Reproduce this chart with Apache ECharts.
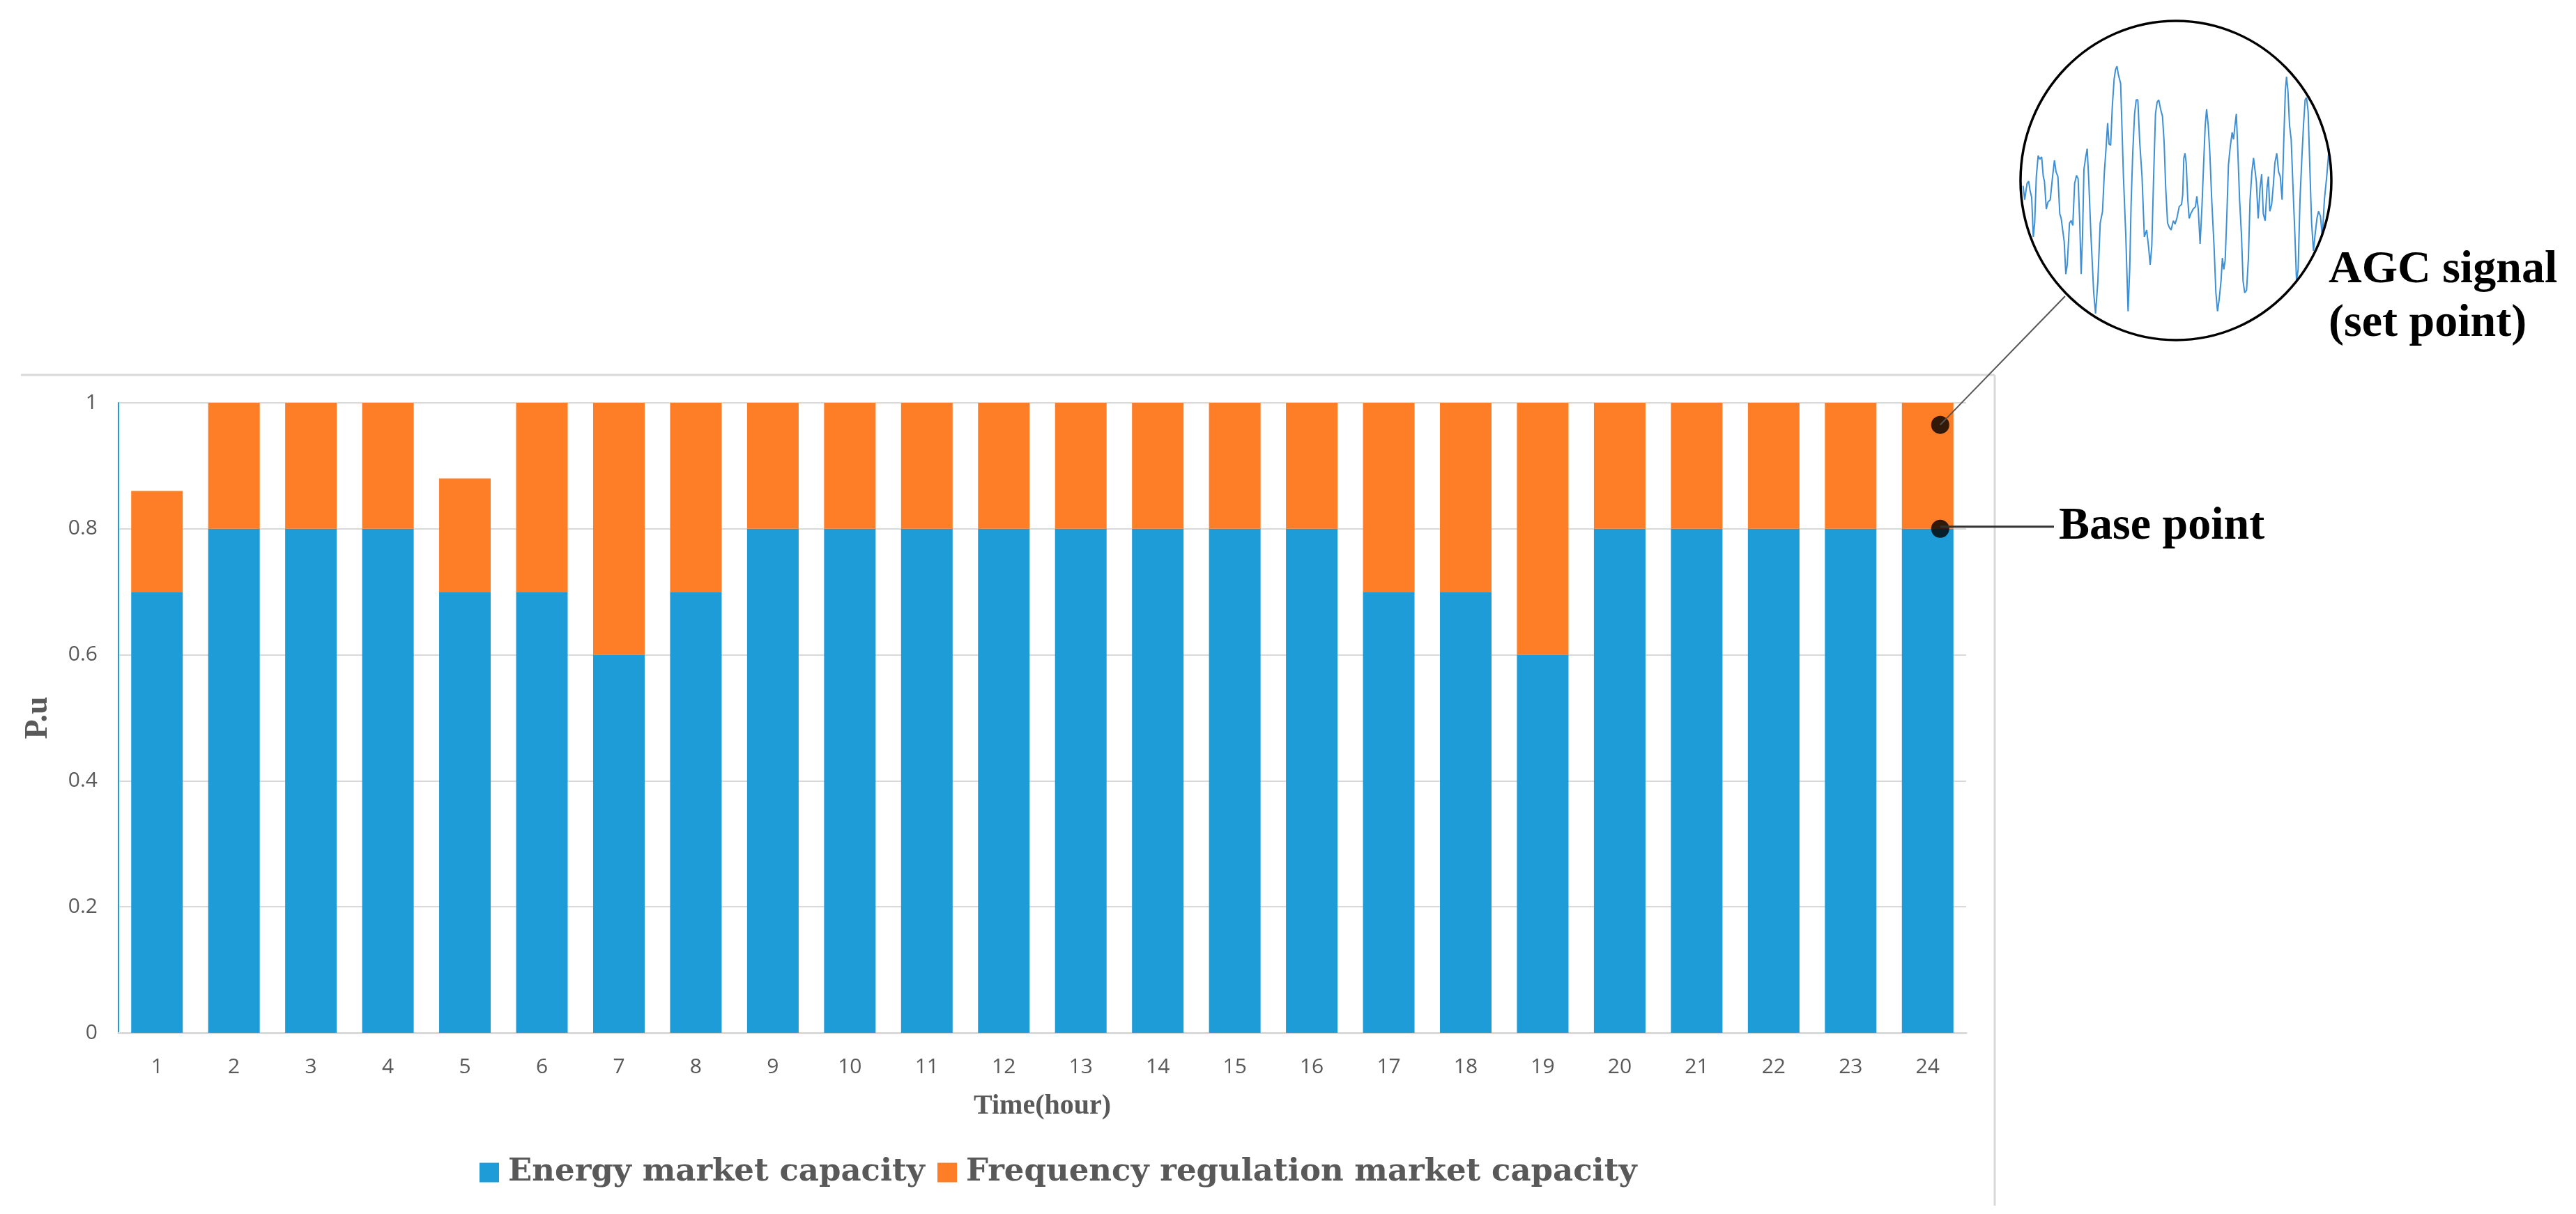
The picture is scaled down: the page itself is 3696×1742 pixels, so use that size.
<!DOCTYPE html>
<html>
<head>
<meta charset="utf-8">
<script src="https://cdn.jsdelivr.net/npm/echarts@6/dist/echarts.min.js"></script>
<style>
html,body{margin:0;padding:0;background:#fff;}
#main{width:3696px;height:1742px;}
</style>
</head>
<body>
<div id="main"></div>
<script>
// ---- data ----
const hours = ['1','2','3','4','5','6','7','8','9','10','11','12','13','14','15','16','17','18','19','20','21','22','23','24'];
const energyCapacity = [0.7,0.8,0.8,0.8,0.7,0.7,0.6,0.7,0.8,0.8,0.8,0.8,0.8,0.8,0.8,0.8,0.7,0.7,0.6,0.8,0.8,0.8,0.8,0.8];
const regulationCapacity = [0.16,0.2,0.2,0.2,0.18,0.3,0.4,0.3,0.2,0.2,0.2,0.2,0.2,0.2,0.2,0.2,0.3,0.3,0.4,0.2,0.2,0.2,0.2,0.2];
const yTicks = [0, 0.2, 0.4, 0.6, 0.8, 1];
const basePointValue = 0.8;
const setPointValue = 0.965;
// AGC signal (sample index, relative value)
const sigT = [68,75,85,92,98,105,112,118,125,133,140,148,155,160,168,175,185,195,203,210,218,226,232,238,245,252,258,268,275,282,290,298,305,312,318,324,330,337,344,350,360,372,380,390,400,410,418,425,432,438,445,452,460,466,472,478,488,494,500,510,520,527,533,540,548,555,562,570,580,590,600,608,615,622,630,638,645,652,660,668,675,682,690,698,705,715,722,730,740,750,755,760,765,770,777,783,790,800,810,816,822,830,838,845,852,858,865,872,880,890,898,905,912,920,926,932,938,945,952,960,968,974,980,986,992,1000,1008,1015,1022,1030,1038,1045,1053,1060,1066,1072,1080,1088,1095,1102,1110,1118,1124,1130,1138,1145,1152,1160,1168,1175,1183,1190,1197,1202,1208,1215,1222,1230,1238,1245,1252,1260,1268,1275,1282,1288,1295,1302,1310,1318,1325,1333,1340,1348,1356,1365,1375,1385];
const sigV = [10,-50,20,30,-10,-40,-210,-150,50,140,125,135,50,30,-90,-60,-50,50,120,70,50,-110,-130,-125,-230,-370,-330,-150,-140,-160,20,55,40,-150,-370,-200,80,130,170,50,-200,-450,-540,-400,-150,-100,70,170,280,190,185,350,470,510,525,490,450,250,50,-200,-530,-350,-70,150,320,380,380,200,50,-210,-180,-250,-330,-250,50,320,370,380,340,310,200,0,-150,-170,-180,-140,-155,-130,-80,-70,-30,130,150,110,-50,-130,-110,-90,-80,-35,-90,-240,-80,100,270,340,270,150,-50,-250,-450,-530,-480,-400,-300,-350,-310,-120,100,180,240,210,270,320,170,-50,-200,-400,-450,-440,-300,-50,70,130,130,30,-130,0,60,-110,-140,0,50,-100,-70,10,110,150,70,50,-50,200,420,480,420,270,210,0,-200,-400,-350,-50,130,270,380,390,330,100,-150,-270,-200,-130,-100,-120,-210,-50,50,170];

const BLUE = '#1E9CD7';
const ORANGE = '#FD7E26';
const GRAY_TXT = '#595959';
const GRID_C = '#D9D9D9';

const chart = echarts.init(document.getElementById('main'), null, {renderer: 'canvas'});

const option = {
  backgroundColor: '#ffffff',
  animation: false,
  grid: [
    {left: 170, right: 875, top: 578, bottom: 260, containLabel: false},
    {left: 2880, top: 20, width: 490, height: 490, containLabel: false}
  ],
  legend: {
    data: ['Energy market capacity', 'Frequency regulation market capacity'],
    left: 683,
    top: 1655,
    itemWidth: 28,
    itemHeight: 28,
    itemGap: 18,
    icon: 'rect',
    textStyle: {
      fontFamily: 'DejaVu Serif',
      fontWeight: 'bold',
      fontSize: 45,
      color: GRAY_TXT,
      padding: [0, 0, 0, 8]
    }
  },
  xAxis: [
    {
      type: 'category',
      gridIndex: 0,
      data: hours,
      name: 'Time(hour)',
      nameLocation: 'middle',
      nameGap: 86,
      nameTextStyle: {fontFamily: 'Liberation Serif', fontWeight: 'bold', fontSize: 40, color: GRAY_TXT},
      axisLine: {show: true, lineStyle: {color: GRID_C, width: 3}},
      axisTick: {show: false},
      axisLabel: {fontFamily: 'Open Sans', fontSize: 30, color: GRAY_TXT, margin: 34},
      splitLine: {show: false}
    },
    {
      type: 'value', gridIndex: 1, min: 0, max: 1470,
      show: false
    }
  ],
  yAxis: [
    {
      type: 'value',
      gridIndex: 0,
      min: 0, max: 1, interval: 0.2,
      name: 'P.u',
      nameLocation: 'middle',
      nameGap: 92,
      nameTextStyle: {fontFamily: 'Liberation Serif', fontWeight: 'bold', fontSize: 46, color: GRAY_TXT},
      axisLine: {show: true, lineStyle: {color: BLUE, width: 2}},
      axisTick: {show: false},
      axisLabel: {
        fontFamily: 'Open Sans', fontSize: 30, color: GRAY_TXT, margin: 30,
        formatter: function (v) { return yTicks.indexOf(Math.round(v * 10) / 10) >= 0 ? String(Math.round(v * 10) / 10) : ''; }
      },
      splitLine: {show: true, lineStyle: {color: GRID_C, width: 2}}
    },
    {
      type: 'value', gridIndex: 1, min: -720, max: 750,
      show: false
    }
  ],
  series: [
    {
      name: 'Energy market capacity',
      type: 'bar',
      stack: 'cap',
      xAxisIndex: 0, yAxisIndex: 0,
      data: energyCapacity,
      barCategoryGap: '33%',
      itemStyle: {color: BLUE}
    },
    {
      name: 'Frequency regulation market capacity',
      type: 'bar',
      stack: 'cap',
      xAxisIndex: 0, yAxisIndex: 0,
      data: regulationCapacity,
      barCategoryGap: '33%',
      itemStyle: {color: ORANGE}
    },
    {
      name: 'points',
      type: 'scatter',
      xAxisIndex: 0, yAxisIndex: 0,
      data: [['24', setPointValue], ['24', basePointValue]],
      symbol: 'circle',
      symbolSize: 26,
      symbolOffset: [18, 0],
      itemStyle: {color: '#000000'},
      z: 5,
      silent: true
    },
    {
      name: 'AGC signal',
      type: 'line',
      xAxisIndex: 1, yAxisIndex: 1,
      data: sigT.map(function (t, i) { return [t, sigV[i]]; }),
      showSymbol: false,
      symbol: 'none',
      lineStyle: {color: '#3D8FD6', width: 2},
      z: 3,
      silent: true
    }
  ]
};
chart.setOption(option);

// annotation graphics positioned from the chart's own scale
const setPx = chart.convertToPixel({xAxisIndex: 0, yAxisIndex: 0}, ['24', setPointValue]);
const basePx = chart.convertToPixel({xAxisIndex: 0, yAxisIndex: 0}, ['24', basePointValue]);
const dotOff = 18;
const grid0 = chart.getModel().getComponent('grid', 0).coordinateSystem.getRect();
const frameTop = grid0.y - 40;
const frameRight = grid0.x + grid0.width + 41;
const labelFont = 'bold 66px "Liberation Serif"';

chart.setOption({
  graphic: [
    // outer chart-area frame (top and right edges)
    {type: 'line', shape: {x1: 30, y1: frameTop, x2: frameRight, y2: frameTop}, style: {stroke: GRID_C, lineWidth: 3}, silent: true},
    {type: 'line', shape: {x1: frameRight, y1: frameTop, x2: frameRight, y2: 1730}, style: {stroke: GRID_C, lineWidth: 3}, silent: true},
    // magnifier circle
    {type: 'ellipse', shape: {cx: 3122, cy: 259, rx: 223, ry: 229}, style: {fill: 'none', stroke: '#000000', lineWidth: 3.5}, z: 10, silent: true},
    // leader line from set point to circle
    {type: 'line', shape: {x1: setPx[0] + dotOff, y1: setPx[1], x2: 2963, y2: 425}, style: {stroke: '#555555', lineWidth: 2}, z: 10, silent: true},
    // leader line from base point to label
    {type: 'line', shape: {x1: basePx[0] + dotOff, y1: basePx[1] - 3, x2: 2947, y2: basePx[1] - 3}, style: {stroke: '#333333', lineWidth: 3}, z: 10, silent: true},
    {type: 'text', x: 3341, y: 388, style: {text: 'AGC signal', font: labelFont, fill: '#000000', verticalAlign: 'middle', align: 'left'}, z: 10, silent: true},
    {type: 'text', x: 3341, y: 465, style: {text: '(set point)', font: labelFont, fill: '#000000', verticalAlign: 'middle', align: 'left'}, z: 10, silent: true},
    {type: 'text', x: 2954, y: 756, style: {text: 'Base point', font: labelFont, fill: '#000000', verticalAlign: 'middle', align: 'left'}, z: 10, silent: true}
  ]
});
</script>
</body>
</html>
